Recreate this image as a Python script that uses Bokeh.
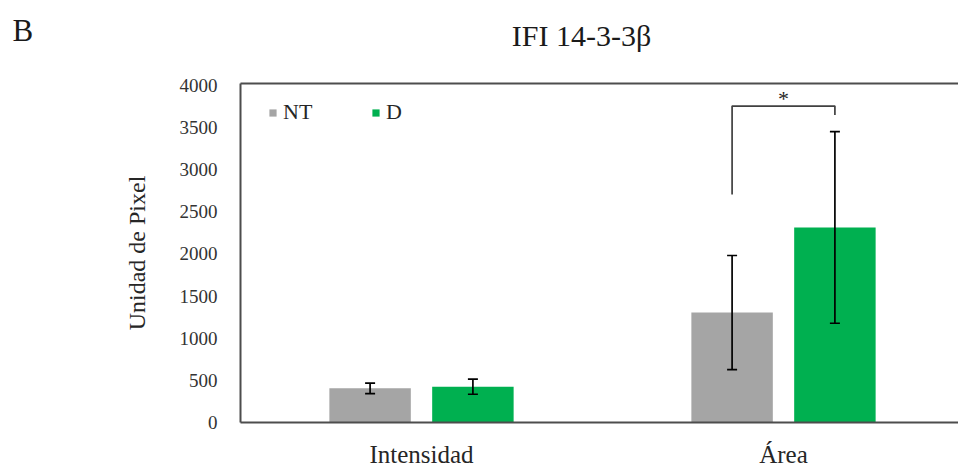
from bokeh.plotting import figure
from bokeh.layouts import column
from bokeh.models import (ColumnDataSource, Whisker, TeeHead, FixedTicker, Range1d,
                          LinearAxis, Legend, LegendItem)
from bokeh.core.properties import value
from bokeh.embed import file_html
from bokeh.resources import INLINE

# Data: mean pixel values and their deviations per measurement and condition
categories = ["Intensidad", "Área"]
nt_mean = [405, 1305]
nt_err = [63, 677]
d_mean = [425, 2315]
d_err = [90, 1137]
y_ticks = [0, 500, 1000, 1500, 2000, 2500, 3000, 3500, 4000]

# significance bracket over the Área pair
bracket_left_low = 2705
bracket_top = 3755
bracket_right_low = 3650
bracket_mark = "*"

panel_letter = "B"
chart_title = "IFI 14-3-3β"

SERIF = "Liberation Serif"
GRAY = "#A5A5A5"
GREEN = "#00B050"
AXIS = "#4d4d4d"
W = 958
HEADER_H = 62

# ---- header strip with panel letter and title (pixel coordinates) ----
head = figure(width=W, height=HEADER_H, output_backend="svg", toolbar_location=None,
              x_range=Range1d(0, W), y_range=Range1d(0, HEADER_H),
              min_border=0, title=None)
try:
    head.frame_align = False
except AttributeError:
    pass
head.axis.visible = False
head.grid.visible = False
head.outline_line_color = None
head.text(x=[12], y=[32], text=[panel_letter], text_font=value(SERIF),
          text_font_size="31px", text_color="#1a1a1a", text_baseline="alphabetic")
head.text(x=[581], y=[27], text=[chart_title], text_font=value(SERIF),
          text_font_size="30px", text_color="#1a1a1a", text_align="center",
          text_baseline="alphabetic")

# ---- bar chart ----
centers = [i + 0.5 for i in range(len(categories))]
offset = 0.142
bar_w = 0.225

def series_source(means, errs, shift):
    xs = [c + shift for c in centers]
    return ColumnDataSource(dict(
        x=xs, top=means,
        upper=[m + e for m, e in zip(means, errs)],
        lower=[m - e for m, e in zip(means, errs)],
    ))

src_nt = series_source(nt_mean, nt_err, -offset)
src_d = series_source(d_mean, d_err, offset)

p = figure(width=W, height=470 - HEADER_H, output_backend="svg", toolbar_location=None,
           x_range=Range1d(0, 718 / 362), y_range=Range1d(0, 4023),
           min_border_left=240, min_border_right=0, min_border_top=83 - HEADER_H,
           min_border_bottom=42, title=None)
try:
    p.frame_align = False
except AttributeError:
    pass
p.outline_line_color = None
p.grid.visible = False

r_nt = p.vbar(x="x", top="top", width=bar_w, source=src_nt, color=GRAY, line_color=None)
r_d = p.vbar(x="x", top="top", width=bar_w, source=src_d, color=GREEN, line_color=None)

for src in (src_nt, src_d):
    w = Whisker(base="x", upper="upper", lower="lower", source=src, dimension="height",
                line_color="black", line_width=1.7, level="overlay",
                upper_head=TeeHead(size=10, line_color="black", line_width=1.7),
                lower_head=TeeHead(size=10, line_color="black", line_width=1.7))
    p.add_layout(w)

# bracket connecting the two Área bars
xl = centers[1] - offset
xr = centers[1] + offset
p.line([xl, xl, xr, xr], [bracket_left_low, bracket_top, bracket_top, bracket_right_low],
       line_color="#404040", line_width=1.7)
p.text(x=[centers[1]], y=[bracket_top], text=[bracket_mark], text_align="center",
       text_baseline="bottom", text_font_size="22px", text_color="#262626",
       text_font=value(SERIF), y_offset=5)

# y axis
ya = p.yaxis[0]
ya.ticker = FixedTicker(ticks=y_ticks)
ya.axis_line_color = AXIS
ya.axis_line_width = 2
ya.major_tick_line_color = None
ya.minor_tick_line_color = None
ya.major_label_standoff = 17
ya.major_label_text_font = SERIF
ya.major_label_text_font_size = "19px"
ya.major_label_text_color = "#333333"
ya.axis_label = "Unidad de Pixel"
ya.axis_label_text_font = SERIF
ya.axis_label_text_font_size = "24px"
ya.axis_label_text_font_style = "normal"
ya.axis_label_text_color = "#262626"
ya.axis_label_standoff = 27

# x axis with category names
xa = p.xaxis[0]
xa.ticker = FixedTicker(ticks=centers)
xa.major_label_overrides = {c: name for c, name in zip(centers, categories)}
xa.axis_line_color = AXIS
xa.axis_line_width = 2
xa.major_tick_line_color = None
xa.minor_tick_line_color = None
xa.major_label_standoff = 12
xa.major_label_text_font = SERIF
xa.major_label_text_font_size = "25px"
xa.major_label_text_color = "#262626"

# top border line
top = LinearAxis(major_tick_line_color=None, minor_tick_line_color=None,
                 major_label_text_color=None, major_label_text_font_size="0px",
                 major_label_standoff=0, axis_line_color=AXIS, axis_line_width=2)
p.add_layout(top, "above")

legend = Legend(items=[LegendItem(label="NT", renderers=[r_nt]),
                       LegendItem(label="D", renderers=[r_d])],
                orientation="horizontal", location=(28, 297),
                padding=0, margin=0, spacing=7,
                glyph_width=9, glyph_height=9, label_standoff=6, label_width=81,
                label_text_font=SERIF, label_text_font_size="22px",
                label_text_color="#262626",
                border_line_color=None, background_fill_alpha=0)
p.add_layout(legend, "center")

layout = column(head, p, spacing=0)
open("out.html", "w").write(file_html(layout, INLINE))
